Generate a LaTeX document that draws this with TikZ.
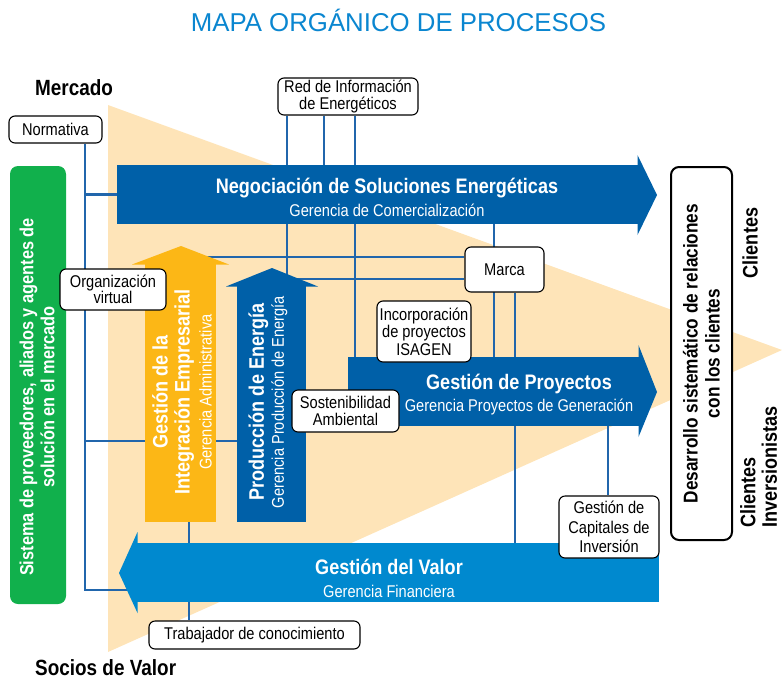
\documentclass[tikz,border=0pt]{standalone}
\usepackage{fontspec}
\setmainfont{Liberation Sans}[FakeStretch=0.86]
\newfontfamily\titlefont{Liberation Sans}
\usetikzlibrary{backgrounds}

\definecolor{mapblue}{RGB}{0,96,168}
\definecolor{valblue}{RGB}{0,137,207}
\definecolor{gold}{RGB}{252,183,22}
\definecolor{mkgreen}{RGB}{17,176,76}
\definecolor{sand}{RGB}{254,228,184}
\definecolor{linkblue}{RGB}{33,102,172}
\definecolor{titleblue}{RGB}{10,134,208}

\newcommand\hdfont{\fontsize{21}{22}\selectfont\bfseries}
\newcommand\gerfont{\fontsize{17}{20}\selectfont\mdseries}
\newcommand\tagfont{\fontsize{17}{16.5}\selectfont}

\begin{document}
\begin{tikzpicture}[x=1pt,y=-1pt,
    link/.style={draw=linkblue, line width=2.4pt},
    tag/.style={draw=black, fill=white, rounded corners=6pt, line width=1.1pt,
      align=center, font=\tagfont, inner sep=1pt},
    band/.style={inner sep=0pt, outer sep=0pt, draw=none},
    lbl/.style={inner sep=0pt, text=white}]

\useasboundingbox (0,0) rectangle (782,681);

% titulos
\node[font=\titlefont\fontsize{25.8}{28}\selectfont, text=titleblue, anchor=base, inner sep=0pt]
  (title) at (398.5,31) {MAPA ORGÁNICO DE PROCESOS};
\node[font=\fontsize{22}{24}\selectfont\bfseries, anchor=base west, inner sep=0pt] (mkt) at (35,95) {Mercado};
\node[font=\fontsize{22}{24}\selectfont\bfseries, anchor=base west, inner sep=0pt] (soc) at (35,675) {Socios de Valor};

% sistema de proveedores
\node[band, fill=mkgreen, rounded corners=8pt, minimum width=56pt, minimum height=438pt] (sys) at (38,385) {};
\node[lbl, rotate=90, align=center, font=\fontsize{19}{21}\selectfont\bfseries] (systxt) at (37,397)
  {Sistema de proveedores, aliados y agentes de\\solución en el mercado};

% flechas de procesos
\node[band, fill=mapblue, minimum width=521pt, minimum height=59pt] (nse) at (377.5,194.5) {};
\fill[mapblue] (637.5,155) -- (657,195) -- (637.5,235) -- cycle;
\node[band, fill=mapblue, minimum width=291pt, minimum height=69pt] (gp) at (493.5,391.5) {};
\fill[mapblue] (638.5,345) -- (657,392) -- (638.5,437) -- cycle;
\node[band, fill=valblue, minimum width=522pt, minimum height=59pt] (gv) at (398,572.5) {};
\fill[valblue] (137.5,532) -- (119,573) -- (137.5,613) -- cycle;
\node[band, fill=gold, minimum width=71pt, minimum height=258pt] (ie) at (180.5,393) {};
\fill[gold] (132,264.5) -- (181,246) -- (229,264.5) -- cycle;
\node[band, fill=mapblue, minimum width=69pt, minimum height=236pt] (pe) at (271.5,404) {};
\fill[mapblue] (226,286.5) -- (272,268) -- (318,286.5) -- cycle;

\node[lbl, font=\hdfont, anchor=base] (nse-t) at (387,193) {Negociación de Soluciones Energéticas};
\node[lbl, font=\gerfont, anchor=base] (nse-s) at (387,216) {Gerencia de Comercialización};
\node[lbl, font=\hdfont, anchor=base] (gp-t) at (519,389) {Gestión de Proyectos};
\node[lbl, font=\gerfont, anchor=base] (gp-s) at (519,411) {Gerencia Proyectos de Generación};
\node[lbl, font=\hdfont, anchor=base] (gv-t) at (389,574) {Gestión del Valor};
\node[lbl, font=\gerfont, anchor=base] (gv-s) at (389,597) {Gerencia Financiera};
\node[lbl, rotate=90, align=center, font=\hdfont] (ie-t) at (182,392)
  {Gestión de la\\Integración Empresarial\\{\gerfont Gerencia Administrativa}};
\node[lbl, rotate=90, align=center, font=\fontsize{21}{20}\selectfont\bfseries] (pe-t) at (268,402)
  {Producción de Energía\\{\gerfont Gerencia Producción de Energía}};

% cajas
\node[tag, minimum width=93pt, minimum height=27pt] (nrm) at (55.5,129.5) {Normativa};
\node[tag, minimum width=140pt, minimum height=37pt] (red) at (348,96.5) {Red de Información\\de Energéticos};
\node[tag, minimum width=106pt, minimum height=41pt] (org) at (113,289.5) {Organización\\virtual};
\node[tag, minimum width=79pt, minimum height=45pt] (mk) at (504.5,269.5) {Marca};
\node[tag, minimum width=94pt, minimum height=61pt, font=\fontsize{17}{17.5}\selectfont] (inc) at (424,331.5)
  {Incorporación\\de proyectos\\ISAGEN};
\node[tag, minimum width=107pt, minimum height=42pt] (sos) at (345.5,411) {Sostenibilidad\\Ambiental};
\node[tag, minimum width=100pt, minimum height=62pt, font=\fontsize{17}{19.5}\selectfont] (cap) at (609,527)
  {Gestión de\\Capitales de\\Inversión};
\node[tag, minimum width=211pt, minimum height=28pt] (tw) at (254.5,635) {Trabajador de conocimiento};
\node[tag, rotate=90, line width=2pt, rounded corners=8pt, minimum width=373pt, minimum height=61pt,
  font=\fontsize{20}{22}\selectfont\bfseries] (dsr) at (701.5,353.5)
  {Desarrollo sistemático de relaciones\\con los clientes};

\node[rotate=90, font=\fontsize{21}{23}\selectfont\bfseries, inner sep=0pt] (cli) at (750,243) {Clientes};
\node[rotate=90, anchor=north west, align=left, font=\fontsize{21}{21.5}\selectfont\bfseries, inner sep=0pt]
  (inv) at (740,528) {Clientes\\Inversionistas};

% fondo y conexiones
\begin{scope}[on background layer]
\fill[sand] (108,105) -- (782,350) -- (108,652) -- cycle;
\coordinate (spine) at (85,590);
\coordinate (mid) at (85,441);
\draw[link] (nrm.south -| spine) -- (spine) -- (gv.west |- spine);
\draw[link] (spine |- nse.west) -- (nse.west);
\draw[link] (mid) -- (mid -| pe.west);
\draw[link] (red.south -| 287,0) -- (pe.north -| 287,0);
\draw[link] (red.south -| 324,0) -- (nse.north -| 324,0);
\draw[link] (red.south -| 355,0) -- (gp.north -| 355,0);
\draw[link] (ie.center |- 0,257) -- (mk.west |- 0,257);
\draw[link] (pe.center |- 0,279) -- (mk.west |- 0,279);
\draw[link] (nse.south -| 494,0) -- (gp.north -| 494,0);
\draw[link] (mk.south -| 515,0) -- (gv.north -| 515,0);
\draw[link] (gp.south -| 608,0) -- (cap.north -| 608,0);
\draw[link] (ie.south -| 189,0) -- (tw.north -| 189,0);
\end{scope}
\end{tikzpicture}
\end{document}
